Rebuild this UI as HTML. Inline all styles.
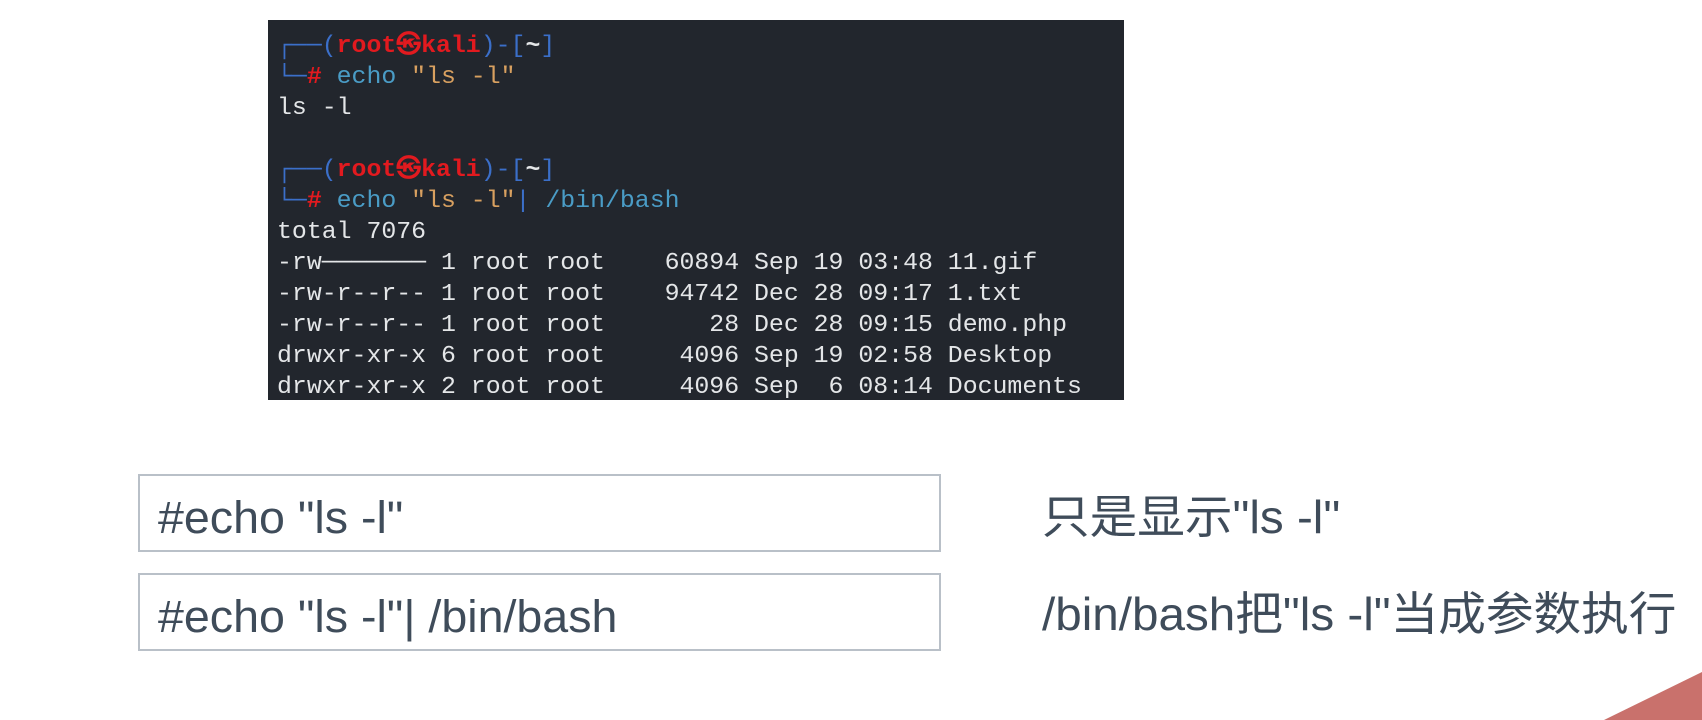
<!DOCTYPE html>
<html><head><meta charset="utf-8"><style>
html,body{margin:0;padding:0;background:#fff;}
body{width:1702px;height:720px;position:relative;overflow:hidden;}
.term{position:absolute;left:268px;top:20px;width:856px;height:380px;background:#22262d;}
.ln{position:absolute;left:9px;font-family:"Liberation Mono","DejaVu Sans Mono",monospace;font-size:24px;color:#e4e6e8;white-space:pre;line-height:31px;transform:scaleX(1.035);transform-origin:left;}
.b{color:#3b6fc9}.r{color:#e21a1f;font-weight:bold}.c{color:#4a9cc6}.y{color:#d8a060}
.box{position:absolute;left:138px;width:803px;height:78px;border:2px solid #b9c0c8;background:#fff;box-sizing:border-box;}
.bt{position:absolute;left:18px;top:16px;font-family:"Liberation Sans","Noto Sans CJK SC",sans-serif;font-size:45px;line-height:52px;color:#3f4c5a;white-space:pre;transform:scaleX(1.035);transform-origin:left;}
.rt{position:absolute;left:1042px;font-family:"Liberation Sans","Noto Sans CJK SC",sans-serif;font-size:46px;line-height:54px;color:#3f4c5a;white-space:pre;transform:scaleX(1.035);transform-origin:left;}
</style></head><body>
<div class="term">
<div class="ln" style="top:11px"><span class="b">┌──(</span><span class="r">root㉿kali</span><span class="b">)-[</span><b>~</b><span class="b">]</span></div>
<div class="ln" style="top:42px"><span class="b">└─</span><span class="r">#</span> <span class="c">echo</span> <span class="y">"ls -l"</span></div>
<div class="ln" style="top:73px">ls -l</div>
<div class="ln" style="top:135px"><span class="b">┌──(</span><span class="r">root㉿kali</span><span class="b">)-[</span><b>~</b><span class="b">]</span></div>
<div class="ln" style="top:166px"><span class="b">└─</span><span class="r">#</span> <span class="c">echo</span> <span class="y">"ls -l"</span><span class="b">|</span> <span class="c">/bin/bash</span></div>
<div class="ln" style="top:197px">total 7076</div>
<div class="ln" style="top:228px">-rw─────── 1 root root    60894 Sep 19 03:48 11.gif</div>
<div class="ln" style="top:259px">-rw-r--r-- 1 root root    94742 Dec 28 09:17 1.txt</div>
<div class="ln" style="top:290px">-rw-r--r-- 1 root root       28 Dec 28 09:15 demo.php</div>
<div class="ln" style="top:321px">drwxr-xr-x 6 root root     4096 Sep 19 02:58 Desktop</div>
<div class="ln" style="top:352px">drwxr-xr-x 2 root root     4096 Sep  6 08:14 Documents</div>
</div>
<div class="box" style="top:474px"><div class="bt">#echo "ls -l"</div></div>
<div class="box" style="top:573px"><div class="bt">#echo "ls -l"| /bin/bash</div></div>
<div class="rt" style="top:490px">只是显示"ls -l"</div>
<div class="rt" style="top:587px">/bin/bash把"ls -l"当成参数执行</div>
<svg style="position:absolute;left:0;top:0" width="1702" height="720"><polygon points="1604,720 1702,672 1702,720" fill="#c9716c"/></svg>
</body></html>
